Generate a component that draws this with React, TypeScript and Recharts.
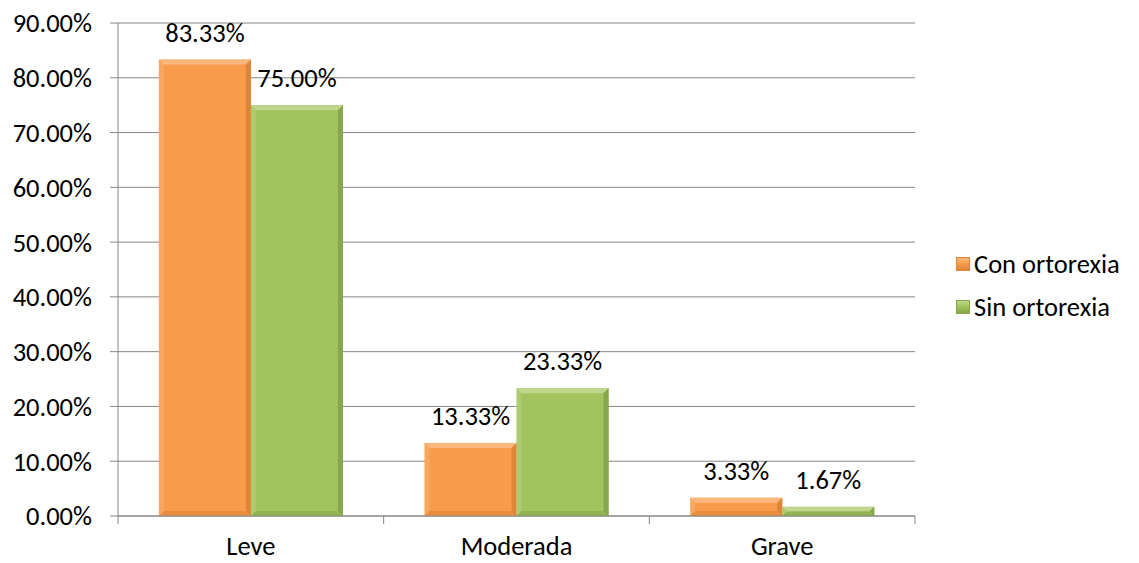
import { BarChart, Bar, XAxis, YAxis, CartesianGrid, LabelList, Legend } from 'recharts';

// categories and series values
const categories = ['Leve', 'Moderada', 'Grave'];
const conOrtorexia = [83.33, 13.33, 3.33];
const sinOrtorexia = [75.0, 23.33, 1.67];
const yTicks = [0, 10, 20, 30, 40, 50, 60, 70, 80, 90];

const series = [
  { key: 'con', name: 'Con ortorexia', color: '#F89C4C', light: '#FBB87C', dark: '#DE8539' },
  { key: 'sin', name: 'Sin ortorexia', color: '#A2C35E', light: '#BFD78C', dark: '#88A64A' },
];

const data = categories.map((name, i) => ({
  name,
  con: conOrtorexia[i],
  sin: sinOrtorexia[i],
}));

const FONT = 'Carlito, "Liberation Sans", Arial, sans-serif';
const FS = 26.5;
const GRID = '#868686';

const pct = (v: number) => `${Number(v).toFixed(2)}%`;

// bar with an Excel-like bevel
function bevelBar(s: typeof series[number]) {
  return (props: any) => {
    const { x, y, width: w, height: h } = props;
    if (!h || h <= 0) return <g />;
    const b = Math.min(5, h / 2, w / 2);
    return (
      <g>
        <rect x={x} y={y} width={w} height={h} fill={s.color} />
        <polygon points={`${x},${y} ${x + w},${y} ${x + w - b},${y + b} ${x + b},${y + b}`} fill={s.light} />
        <polygon points={`${x},${y} ${x + b},${y + b} ${x + b},${y + h - b} ${x},${y + h}`} fill={s.light} opacity={0.4} />
        <polygon points={`${x + w},${y} ${x + w},${y + h} ${x + w - b},${y + h - b} ${x + w - b},${y + b}`} fill={s.dark} />
        <polygon points={`${x},${y + h} ${x + w},${y + h} ${x + w - b},${y + h - b} ${x + b},${y + h - b}`} fill={s.dark} opacity={0.6} />
      </g>
    );
  };
}

const ValueLabel = (props: any) => {
  const { x, y, width, value } = props;
  return (
    <text x={x + width / 2} y={y - 27} textAnchor="middle" dominantBaseline="central" fontSize={FS} fontFamily={FONT} fill="#000">
      {pct(value)}
    </text>
  );
};

const CategoryTick = (props: any) => {
  const { x, y, payload, index, visibleTicksCount, width } = props;
  const band = typeof width === 'number' && visibleTicksCount ? width / visibleTicksCount : 797 / 3;
  const half = band / 2;
  return (
    <g>
      <line x1={x - half} x2={x - half} y1={y} y2={y + 8} stroke={GRID} />
      {index === visibleTicksCount - 1 && <line x1={x + half} x2={x + half} y1={y} y2={y + 8} stroke={GRID} />}
      <text x={x} y={y + 39} textAnchor="middle" fontSize={FS} fontFamily={FONT} fill="#000">
        {payload.value}
      </text>
    </g>
  );
};

const LegendBox = () => (
  <div style={{ fontFamily: FONT, fontSize: FS, color: '#000' }}>
    {series.map((s) => (
      <div key={s.key} style={{ display: 'flex', alignItems: 'center', height: 43 }}>
        <span
          style={{
            display: 'inline-block',
            width: 12,
            height: 12,
            marginRight: 4,
            background: `linear-gradient(${s.light}, ${s.color} 45%, ${s.dark})`,
            border: `1px solid ${s.dark}`,
          }}
        />
        <span>{s.name}</span>
      </div>
    ))}
  </div>
);

export default function App() {
  return (
    <div style={{ position: 'absolute', left: 0, top: 0, background: '#fff' }}>
      <BarChart
        width={1139}
        height={563}
        data={data}
        margin={{ top: 23, right: 224, left: 0, bottom: 0 }}
        barCategoryGap="15.4%"
        barGap={0}
      >
        <CartesianGrid vertical={false} stroke={GRID} strokeWidth={1} />
        <XAxis
          dataKey="name"
          height={47}
          stroke={GRID}
          tickLine={false}
          tickSize={0}
          tickMargin={0}
          tick={<CategoryTick />}
          interval={0}
        />
        <YAxis
          width={118}
          domain={[0, 90]}
          ticks={yTicks}
          tickFormatter={pct}
          stroke={GRID}
          tickSize={8}
          tickMargin={18}
          tick={{ fill: '#000', fontSize: FS, fontFamily: FONT }}
        />
        <Legend
          layout="horizontal"
          verticalAlign="middle"
          align="center"
          content={<LegendBox />}
          wrapperStyle={{ left: 956, top: 242, width: 183 }}
        />
        {series.map((s) => (
          <Bar key={s.key} dataKey={s.key} name={s.name} fill={s.color} shape={bevelBar(s)} isAnimationActive={false}>
            <LabelList dataKey={s.key} content={<ValueLabel />} />
          </Bar>
        ))}
      </BarChart>
    </div>
  );
}
